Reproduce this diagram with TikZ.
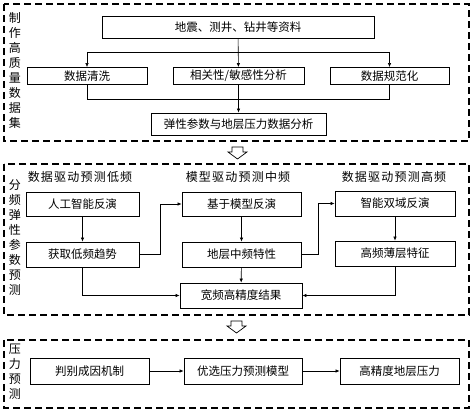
\documentclass[tikz,border=0pt]{standalone}
\usepackage{fontspec}
\setmainfont{Noto Sans CJK SC}
\newfontfamily\headfont[LetterSpace=10]{Noto Sans CJK SC}
\usetikzlibrary{arrows.meta, positioning}
\tikzset{
  box/.style={rectangle,draw,line width=0.8pt,align=center,inner sep=0pt,font=\fontsize{11.5}{13}\selectfont},
  frame/.style={draw,line width=1.5pt,dash pattern=on 7pt off 4pt},
  sidelabel/.style={align=center,inner sep=0pt,font=\headfont\fontsize{12}{15}\selectfont},
  headlabel/.style={inner sep=0pt,font=\headfont\fontsize{12}{14}\selectfont},
  hollow/.style={draw,line width=0.7pt,fill=white},
  line/.style={-{Latex[length=4pt,width=3.5pt]},line width=0.6pt}
}

\begin{document}
\begin{tikzpicture}[x=1pt,y=-1pt]
\useasboundingbox (0,0) rectangle (474,411);
% data set
\draw[frame] (4,4) rectangle (469,141);
\node[sidelabel] (lab1) at (15,70) {制\\作\\高\\质\\量\\数\\据\\集};
\node[box, minimum width=272pt, minimum height=22pt] (src) at (238,27) {地震、测井、钻井等资料};
\node[box, minimum width=120pt, minimum height=17pt] (clean) at (87,76) {数据清洗};
\node[box, minimum width=131pt, minimum height=17pt] (corr) at (238.5,76) {相关性/敏感性分析};
\node[box, minimum width=119pt, minimum height=17pt] (norm) at (389.5,76) {数据规范化};
\node[box, minimum width=175pt, minimum height=22pt] (anal) at (238.5,124) {弹性参数与地层压力数据分析};
\coordinate (j1) at (0,52);
\coordinate (j2) at (0,99);
\draw[line width=0.6pt] (clean.north |- j1) -- (norm.north |- j1);
\draw[line] (clean.north |- j1) -- (clean.north);
\draw[line] (norm.north |- j1) -- (norm.north);
\draw[line] (src) -- (corr);
\draw[line width=0.6pt] (clean.south) -- (clean.south |- j2) -- (norm.south |- j2) -- (norm.south);
\draw[line width=0.6pt] (corr.south) -- (corr.south |- j2);
\draw[line] (anal.north |- j2) -- (anal.north);
\draw[hollow] (232,147) -- (243,147) -- (243,152) -- (247,152) -- (237.5,159) -- (228,152) -- (232,152) -- cycle;
% band-split inversion
\draw[frame] (4,164) rectangle (469,315);
\node[sidelabel] (lab2) at (15,238) {分\\频\\弹\\性\\参\\数\\预\\测};
\node[headlabel] (h1) at (80,177) {数据驱动预测低频};
\node[headlabel] (h2) at (238,177) {模型驱动预测中频};
\node[headlabel] (h3) at (394,177) {数据驱动预测高频};
\node[box, minimum width=113pt, minimum height=24pt] (ai) at (82.5,204) {人工智能反演};
\node[box, minimum width=113pt, minimum height=25pt] (low) at (82.5,254.5) {获取低频趋势};
\node[box, minimum width=119pt, minimum height=24pt] (mbi) at (241.5,204) {基于模型反演};
\node[box, minimum width=119pt, minimum height=25pt] (mid) at (241.5,254.5) {地层中频特性};
\node[box, minimum width=122pt, minimum height=25pt] (res) at (241,295.5) {宽频高精度结果};
\node[box, minimum width=120pt, minimum height=25pt] (dual) at (395,203.5) {智能双域反演};
\node[box, minimum width=120pt, minimum height=25pt] (high) at (395,253.5) {高频薄层特征};
\draw[line] (ai) -- (low);
\draw[line] (low.east) -- ++(21,0) |- (mbi.west);
\draw[line] (low.south) |- (res.west);
\draw[line] (mbi) -- (mid);
\draw[line] (mid) -- (res);
\draw[line] (mid.east) -- ++(17,0) |- (dual.west);
\draw[line] (dual) -- (high);
\draw[line] (high.south) |- (res.east);
\draw[hollow] (231,321) -- (242,321) -- (242,326) -- (246,326) -- (236.5,333) -- (227,326) -- (231,326) -- cycle;
% pressure
\draw[frame] (4,340) rectangle (469,408);
\node[sidelabel] (lab3) at (15,372) {压\\力\\预\\测};
\node[box, minimum width=119pt, minimum height=26pt] (judge) at (89.5,371) {判别成因机制};
\node[box, minimum width=118pt, minimum height=26pt] (opt) at (243,371) {优选压力预测模型};
\node[box, minimum width=119pt, minimum height=26pt] (hp) at (399.5,371) {高精度地层压力};
\draw[line] (judge) -- (opt);
\draw[line] (opt) -- (hp);
\end{tikzpicture}
\end{document}
